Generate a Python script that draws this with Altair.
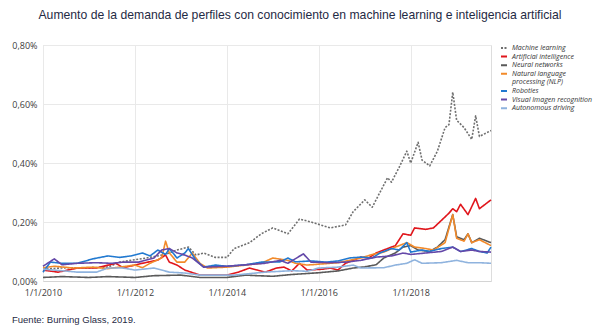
import altair as alt
import pandas as pd

series = ["Machine learning", "Artificial intelligence", "Neural  networks",
          "Natural language processing (NLP)", "Roboties",
          "Visual Imagen recognition", "Autonomous driving"]
colors = ["#6f6f6f", "#e0161c", "#5a5a5a", "#f28a2a", "#2179d0", "#6448a8", "#8fb3de"]

# legend: NLP label wraps onto a second legend row (no symbol)
legend_second_line = "processing (NLP)"
legend_domain = series[:4] + [legend_second_line] + series[4:]
legend_colors = colors[:4] + ["rgba(0,0,0,0)"] + colors[4:]

ml_dates = ["2010-01","2010-07","2011-01","2011-06","2011-09","2012-04","2012-09","2012-12","2013-03","2013-05","2013-07","2013-10","2014-01","2014-03","2014-07","2014-10","2015-01","2015-05","2015-08","2015-11","2016-04","2016-08","2016-10","2017-01","2017-03","2017-05","2017-07","2017-08","2017-10","2017-12","2018-01","2018-03","2018-04","2018-06","2018-08","2018-10","2018-11","2018-12","2019-01","2019-03","2019-05","2019-06","2019-07","2019-10"]
ml_vals = [0.040,0.045,0.045,0.047,0.064,0.078,0.090,0.105,0.115,0.088,0.095,0.080,0.080,0.110,0.130,0.160,0.180,0.160,0.210,0.200,0.180,0.190,0.235,0.275,0.250,0.300,0.350,0.335,0.385,0.440,0.400,0.470,0.410,0.390,0.440,0.520,0.530,0.640,0.545,0.520,0.480,0.560,0.490,0.510]

ai_dates = ["2010-01","2010-05","2010-10","2011-03","2011-08","2011-10","2012-01","2012-03","2012-07","2012-09","2012-10","2012-12","2013-02","2013-06","2013-10","2014-01","2014-04","2014-07","2014-09","2014-11","2015-02","2015-04","2015-06","2015-08","2015-10","2016-02","2016-04","2016-06","2016-08","2016-10","2016-12","2017-02","2017-04","2017-07","2017-09","2017-11","2018-01","2018-02","2018-05","2018-07","2018-09","2018-11","2018-12","2019-01","2019-02","2019-04","2019-06","2019-07","2019-10"]
ai_vals = [0.037,0.030,0.044,0.044,0.060,0.045,0.054,0.060,0.071,0.088,0.064,0.054,0.037,0.020,0.020,0.020,0.030,0.044,0.037,0.030,0.044,0.047,0.034,0.060,0.037,0.040,0.044,0.037,0.060,0.070,0.081,0.078,0.095,0.110,0.120,0.160,0.155,0.180,0.175,0.180,0.205,0.230,0.245,0.235,0.260,0.225,0.280,0.245,0.275]

nn_dates = ["2010-01","2010-06","2011-01","2011-06","2012-01","2012-06","2013-01","2013-06","2014-01","2014-06","2014-09","2015-01","2015-06","2016-01","2016-06","2016-10","2017-01","2017-04","2017-06","2017-09","2017-11","2018-01","2018-03","2018-06","2018-08","2018-10","2018-12","2019-01","2019-03","2019-04","2019-05","2019-07","2019-10"]
nn_vals = [0.012,0.015,0.012,0.015,0.012,0.018,0.020,0.012,0.012,0.020,0.018,0.016,0.022,0.028,0.034,0.044,0.048,0.055,0.078,0.095,0.115,0.120,0.105,0.100,0.115,0.140,0.225,0.150,0.140,0.160,0.130,0.145,0.130]

nlp_dates = ["2010-01","2010-04","2010-09","2011-02","2011-06","2011-09","2012-01","2012-03","2012-05","2012-08","2012-09","2012-10","2012-12","2013-02","2013-04","2013-06","2013-08","2014-01","2014-06","2014-10","2015-01","2015-05","2015-07","2015-10","2016-06","2016-09","2016-12","2017-03","2017-06","2017-09","2017-12","2018-02","2018-05","2018-07","2018-10","2018-12","2019-01","2019-03","2019-04","2019-05","2019-07","2019-10"]
nlp_vals = [0.045,0.050,0.044,0.047,0.042,0.047,0.054,0.045,0.060,0.078,0.135,0.095,0.064,0.064,0.095,0.060,0.044,0.047,0.054,0.060,0.078,0.070,0.060,0.054,0.062,0.070,0.078,0.090,0.098,0.115,0.130,0.115,0.110,0.105,0.130,0.225,0.145,0.135,0.160,0.130,0.140,0.120]

rob_dates = ["2010-01","2010-03","2010-06","2010-10","2011-02","2011-06","2011-09","2011-12","2012-03","2012-05","2012-07","2012-09","2012-10","2012-12","2013-02","2013-03","2013-05","2013-07","2013-10","2014-01","2014-06","2014-10","2015-03","2015-05","2015-07","2015-11","2016-03","2016-06","2016-09","2016-12","2017-03","2017-05","2017-08","2017-10","2017-12","2018-01","2018-04","2018-06","2018-09","2018-12","2019-02","2019-05","2019-07","2019-09","2019-10"]
rob_vals = [0.030,0.064,0.060,0.060,0.075,0.085,0.080,0.085,0.095,0.085,0.105,0.090,0.110,0.078,0.095,0.110,0.070,0.047,0.054,0.050,0.055,0.064,0.065,0.078,0.065,0.068,0.064,0.068,0.078,0.081,0.078,0.095,0.110,0.105,0.130,0.098,0.105,0.100,0.110,0.115,0.100,0.110,0.100,0.095,0.115]

vis_dates = ["2010-01","2010-04","2010-06","2010-10","2011-03","2011-07","2011-10","2012-02","2012-06","2012-08","2012-10","2012-12","2013-02","2013-04","2013-07","2014-01","2014-06","2014-11","2015-03","2015-05","2015-09","2015-11","2016-04","2016-08","2016-12","2017-04","2017-08","2017-11","2018-01","2018-05","2018-09","2018-12","2019-02","2019-05","2019-07","2019-10"]
vis_vals = [0.050,0.075,0.055,0.060,0.062,0.060,0.064,0.064,0.078,0.105,0.110,0.095,0.088,0.078,0.047,0.050,0.055,0.060,0.070,0.060,0.092,0.064,0.062,0.064,0.070,0.081,0.085,0.095,0.090,0.095,0.100,0.115,0.100,0.105,0.100,0.098]

aut_dates = ["2010-01","2010-06","2010-10","2011-03","2011-06","2011-10","2012-01","2012-06","2012-10","2013-02","2013-06","2014-03","2014-07","2014-11","2015-06","2015-10","2016-01","2016-06","2016-10","2016-12","2017-06","2017-09","2017-12","2018-02","2018-04","2018-09","2019-01","2019-04","2019-07","2019-10"]
aut_vals = [0.040,0.035,0.030,0.030,0.044,0.044,0.037,0.044,0.030,0.027,0.020,0.020,0.025,0.030,0.035,0.033,0.044,0.047,0.054,0.044,0.045,0.054,0.060,0.072,0.060,0.062,0.070,0.062,0.062,0.060]

all_dates = [ml_dates, ai_dates, nn_dates, nlp_dates, rob_dates, vis_dates, aut_dates]
all_vals = [ml_vals, ai_vals, nn_vals, nlp_vals, rob_vals, vis_vals, aut_vals]

rows = []
for name, ds, vs in zip(series, all_dates, all_vals):
    assert len(ds) == len(vs), name
    for d, v in zip(ds, vs):
        rows.append({"serie": name, "date": d + "-01", "value": v})
df = pd.DataFrame(rows)

W, H = 448, 236
dash_range = [[2, 1.5], [1, 0], [1, 0], [1, 0], [1, 0], [1, 0], [1, 0], [1, 0]]

x_ticks = [alt.DateTime(year=y, month=1, date=1, utc=True) for y in [2010, 2012, 2014, 2016, 2018]]

legend_kw = dict(title=None, orient="none", legendX=457, legendY=-1,
                 symbolType="stroke", symbolSize=36, symbolStrokeWidth=2,
                 labelFont="Open Sans", labelFontStyle="italic", labelFontSize=7,
                 labelColor="#333333", rowPadding=0.6, labelOffset=4, labelLimit=200,
                 labelExpr="datum.label == 'Natural language processing (NLP)' ? 'Natural language' : datum.label")

lines = alt.Chart(df).mark_line(strokeWidth=1.6, strokeJoin="round").encode(
    x=alt.X("date:T",
            scale=alt.Scale(type="utc",
                            domain=[alt.DateTime(year=2010, month=1, date=1, utc=True),
                                    alt.DateTime(year=2019, month=10, date=1, utc=True)]),
            axis=alt.Axis(title=None, values=x_ticks,
                          labelExpr="'1/1/' + utcFormat(datum.value, '%Y')",
                          grid=True, gridColor="#e9e9e9", ticks=False, labelFlush=False,
                          domainColor="#d4d4d4", labelPadding=7,
                          labelFont="Open Sans", labelFontSize=9, labelColor="#404040")),
    y=alt.Y("value:Q",
            scale=alt.Scale(domain=[0, 0.8]),
            axis=alt.Axis(title=None, values=[0, 0.2, 0.4, 0.6, 0.8],
                          labelExpr="replace(format(datum.value, '.2f'), '.', ',') + '%'",
                          grid=True, gridColor="#e9e9e9", ticks=False, domain=False,
                          labelPadding=6, labelFont="Open Sans", labelFontSize=9,
                          labelColor="#404040")),
    color=alt.Color("serie:N", scale=alt.Scale(domain=legend_domain, range=legend_colors),
                    legend=alt.Legend(**legend_kw)),
    strokeDash=alt.StrokeDash("serie:N", scale=alt.Scale(domain=legend_domain, range=dash_range),
                              legend=alt.Legend(**legend_kw)),
    order=alt.Order("date:T"),
)

footer = alt.Chart(pd.DataFrame({"t": ["Fuente: Burning Glass, 2019."]})).mark_text(
    align="left", baseline="alphabetic", font="Liberation Sans", fontSize=9.5, color="#1f2a44"
).encode(text="t:N", x=alt.value(-31), y=alt.value(H + 42))

chart = alt.layer(lines, footer).properties(
    width=W, height=H,
    padding={"left": 43, "top": 45, "right": 600 - 43 - W, "bottom": 327 - 45 - H},
    autosize=alt.AutoSizeParams(type="none"),
    title=alt.TitleParams(
        "Aumento de la demanda de perfiles con conocimiento en machine learning e inteligencia artificial",
        anchor="middle", dx=33, offset=20, font="Liberation Sans", fontSize=12.2,
        fontWeight="normal", color="#1f2a44"),
).configure_view(stroke=None).configure(background="white")

chart.save("out.html", embed_options={"renderer": "svg", "actions": False})
